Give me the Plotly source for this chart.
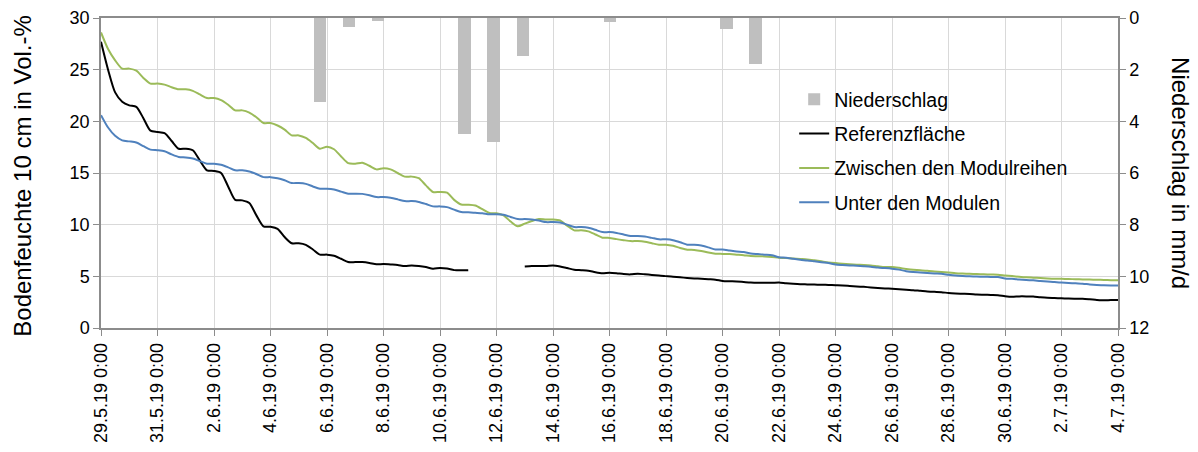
import pandas as pd
import plotly.graph_objects as go

# ---------------- data ----------------
start_time = "2019-05-29 00:00"
step = "6h"

referenz = [
    27.7, 25.0, 22.8, 21.9,
    21.55, 21.4, 20.3, 19.1,
    18.97, 18.85, 18.1, 17.35,
    17.35, 17.2, 16.2, 15.26,
    15.2, 15.0, 13.7, 12.4,
    12.35, 12.1, 10.9, 9.84,
    9.8, 9.6, 8.8, 8.2,
    8.2, 8.05, 7.6, 7.1,
    7.1, 7.0, 6.7, 6.38,
    6.38, 6.38, 6.3, 6.16,
    6.2, 6.15, 6.1, 6.0,
    6.05, 6.0, 5.9, 5.74,
    5.8, 5.75, 5.6, 5.58,
    5.6, None, None, None,
    None, None, None, None,
    5.96, 6.0, 6.0, 6.0,
    6.05, 5.95, 5.8, 5.64,
    5.6, 5.55, 5.4, 5.3,
    5.35, 5.3, 5.22, 5.19,
    5.25, 5.2, 5.14, 5.09,
    5.02, 4.95, 4.9, 4.85,
    4.8, 4.76, 4.72, 4.68,
    4.55, 4.52, 4.5, 4.45,
    4.4, 4.38, 4.38, 4.38,
    4.4, 4.33, 4.28, 4.24,
    4.22, 4.2, 4.19, 4.16,
    4.14, 4.12, 4.07, 4.02,
    3.98, 3.93, 3.88, 3.83,
    3.8, 3.75, 3.7, 3.66,
    3.6, 3.54, 3.5, 3.47,
    3.38, 3.34, 3.32, 3.3,
    3.24, 3.22, 3.2, 3.18,
    3.08, 3.02, 3.06, 3.06,
    3.04, 2.97, 2.92, 2.9,
    2.88, 2.85, 2.84, 2.83,
    2.78, 2.72, 2.68, 2.7,
    2.7,
]

zwischen = [
    28.6, 27.0, 25.9, 25.1,
    25.1, 24.9, 24.2, 23.65,
    23.65, 23.55, 23.3, 23.1,
    23.1, 22.95, 22.6, 22.25,
    22.25, 22.05, 21.6, 21.06,
    21.06, 20.85, 20.4, 19.84,
    19.84, 19.6, 19.2, 18.64,
    18.64, 18.4, 17.9, 17.35,
    17.55, 17.3, 16.6, 15.95,
    15.9, 16.0, 15.7, 15.35,
    15.45, 15.35, 15.0, 14.65,
    14.65, 14.5, 13.8, 13.16,
    13.16, 13.1, 12.4, 11.95,
    11.93, 11.85, 11.5, 11.13,
    11.1, 10.9, 10.3, 9.84,
    10.1, 10.35, 10.55, 10.5,
    10.5, 10.4, 9.9, 9.45,
    9.45, 9.35, 9.05, 8.74,
    8.72, 8.6, 8.5, 8.41,
    8.41, 8.35, 8.2, 8.06,
    8.06, 7.95, 7.75, 7.58,
    7.55, 7.45, 7.3, 7.19,
    7.17, 7.15, 7.1, 7.05,
    6.96, 6.95, 6.93, 6.88,
    6.8, 6.77, 6.72, 6.68,
    6.64, 6.55, 6.45, 6.35,
    6.28, 6.22, 6.17, 6.13,
    6.1, 6.05, 5.97, 5.9,
    5.9, 5.82, 5.72, 5.64,
    5.6, 5.53, 5.46, 5.41,
    5.36, 5.3, 5.27, 5.25,
    5.22, 5.19, 5.17, 5.16,
    5.09, 5.03, 4.96, 4.9,
    4.87, 4.84, 4.8, 4.77,
    4.76, 4.74, 4.72, 4.7,
    4.69, 4.67, 4.65, 4.63,
    4.61,
]

unter = [
    20.6, 19.4, 18.6, 18.16,
    18.06, 17.95, 17.6, 17.26,
    17.2, 17.1, 16.8, 16.55,
    16.5, 16.4, 16.15, 15.9,
    15.9, 15.8, 15.55, 15.26,
    15.26, 15.15, 14.9, 14.6,
    14.6, 14.5, 14.3, 14.03,
    14.03, 13.95, 13.7, 13.48,
    13.48, 13.4, 13.2, 13.0,
    13.0, 12.98, 12.85, 12.67,
    12.67, 12.6, 12.45, 12.28,
    12.28, 12.2, 12.0, 11.77,
    11.77, 11.7, 11.45, 11.22,
    11.2, 11.15, 11.1, 11.0,
    11.0, 10.95, 10.75, 10.54,
    10.54, 10.5, 10.4, 10.25,
    10.25, 10.2, 10.0, 9.77,
    9.77, 9.7, 9.5, 9.28,
    9.28, 9.2, 9.05, 8.9,
    8.9, 8.85, 8.72, 8.58,
    8.58, 8.5, 8.3, 8.06,
    8.06, 7.98, 7.8, 7.6,
    7.6, 7.5, 7.4, 7.35,
    7.2, 7.15, 7.1, 7.05,
    6.85, 6.8, 6.7, 6.6,
    6.54, 6.45, 6.36, 6.28,
    6.15, 6.1, 6.06, 6.02,
    5.98, 5.93, 5.85, 5.8,
    5.74, 5.65, 5.5, 5.41,
    5.38, 5.33, 5.28, 5.25,
    5.15, 5.07, 5.03, 5.0,
    4.98, 4.96, 4.94, 4.93,
    4.8, 4.76, 4.7, 4.65,
    4.61, 4.55, 4.5, 4.44,
    4.4, 4.36, 4.32, 4.29,
    4.22, 4.17, 4.13, 4.12,
    4.12,
]

niederschlag_zeit = [
    "2019-06-05 18:00", "2019-06-06 18:45", "2019-06-07 19:10",
    "2019-06-10 21:00", "2019-06-11 21:40", "2019-06-12 22:30",
    "2019-06-16 00:30", "2019-06-20 03:20", "2019-06-21 04:05",
]
niederschlag_mm = [3.26, 0.36, 0.13, 4.49, 4.8, 1.49, 0.17, 0.43, 1.79]

tick_dates = [
    "2019-05-29", "2019-05-31", "2019-06-02", "2019-06-04", "2019-06-06",
    "2019-06-08", "2019-06-10", "2019-06-12", "2019-06-14", "2019-06-16",
    "2019-06-18", "2019-06-20", "2019-06-22", "2019-06-24", "2019-06-26",
    "2019-06-28", "2019-06-30", "2019-07-02", "2019-07-04",
]
tick_labels = [
    "29.5.19 0:00", "31.5.19 0:00", "2.6.19 0:00", "4.6.19 0:00", "6.6.19 0:00",
    "8.6.19 0:00", "10.6.19 0:00", "12.6.19 0:00", "14.6.19 0:00", "16.6.19 0:00",
    "18.6.19 0:00", "20.6.19 0:00", "22.6.19 0:00", "24.6.19 0:00", "26.6.19 0:00",
    "28.6.19 0:00", "30.6.19 0:00", "2.7.19 0:00", "4.7.19 0:00",
]

# ---------------- figure ----------------
zeit = pd.date_range(start_time, periods=len(referenz), freq=step)
FONT = "Liberation Sans, Arial, sans-serif"
GRID = "#D9D9D9"
AXIS = "#8C8C8C"
LINE = dict(shape="spline", smoothing=0.7, width=2)

fig = go.Figure()
fig.add_trace(go.Bar(
    x=pd.to_datetime(niederschlag_zeit), y=niederschlag_mm, name="Niederschlag",
    yaxis="y2", marker=dict(color="#BFBFBF", line=dict(width=0)),
    width=0.446 * 86400000, legendgroup="a",
))
fig.add_trace(go.Scatter(x=zeit, y=referenz, name="Referenzfläche", mode="lines",
                         line=dict(color="#000000", **LINE), connectgaps=False,
                         legendgroup="b"))
fig.add_trace(go.Scatter(x=zeit, y=zwischen, name="Zwischen den Modulreihen", mode="lines",
                         line=dict(color="#9BBB59", **LINE), legendgroup="c"))
fig.add_trace(go.Scatter(x=zeit, y=unter, name="Unter den Modulen", mode="lines",
                         line=dict(color="#4F81BD", **LINE), legendgroup="d"))

fig.update_layout(
    width=1190, height=444,
    margin=dict(l=92.5, r=80, t=9.6, b=124.4, autoexpand=False),
    paper_bgcolor="white", plot_bgcolor="white",
    font=dict(family=FONT, size=18, color="#000000"),
    showlegend=True,
    legend=dict(x=0.6816, y=0.80, xanchor="left", yanchor="top",
                font=dict(size=19.5, family=FONT, color="#000000"),
                bgcolor="rgba(255,255,255,0)", traceorder="grouped",
                tracegroupgap=6),
    xaxis=dict(
        type="date", range=["2019-05-29", "2019-07-04"], automargin=False,
        tickmode="array", tickvals=pd.to_datetime(tick_dates), ticktext=tick_labels,
        tickangle=-90, tickfont=dict(size=18),
        showgrid=True, gridcolor=GRID, gridwidth=1,
        showline=True, linecolor=AXIS, linewidth=1.5, mirror=True,
        ticks="outside", ticklen=6, tickcolor=AXIS,
        zeroline=False,
    ),
    yaxis=dict(
        range=[0, 30], dtick=5, tickfont=dict(size=18), automargin=False,
        showgrid=True, gridcolor=GRID, gridwidth=1,
        showline=True, linecolor=AXIS, linewidth=1.5,
        ticks="outside", ticklen=6, tickcolor=AXIS, zeroline=False,
    ),
    yaxis2=dict(
        range=[12, 0], dtick=2, overlaying="y", side="right", automargin=False,
        tickfont=dict(size=18), showgrid=False,
        showline=True, linecolor=AXIS, linewidth=1.5,
        ticks="outside", ticklen=6, tickcolor=AXIS, zeroline=False,
    ),
    bargap=0,
    annotations=[
        dict(text="Bodenfeuchte 10 cm in Vol.-%", xref="paper", yref="paper",
             x=-0.0771, y=0.49, xanchor="center", yanchor="middle",
             textangle=-90, showarrow=False, font=dict(size=24, family=FONT)),
        dict(text="Niederschlag in mm/d", xref="paper", yref="paper",
             x=1.0619, y=0.5, xanchor="center", yanchor="middle",
             textangle=90, showarrow=False, font=dict(size=24, family=FONT)),
    ],
)

fig.write_html("out.html")
